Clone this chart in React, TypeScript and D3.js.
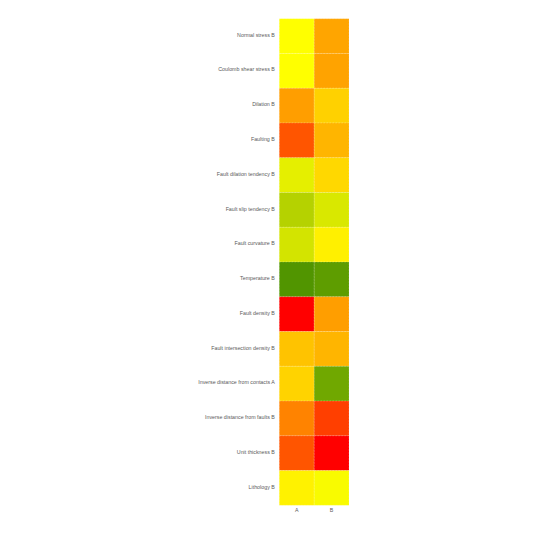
import React, { useEffect, useRef } from 'react';
import * as d3 from 'd3';

// variables (rows, top to bottom)
const variables = [
  'Normal stress B',
  'Coulomb shear stress B',
  'Dilation B',
  'Faulting B',
  'Fault dilation tendency B',
  'Fault slip tendency B',
  'Fault curvature B',
  'Temperature B',
  'Fault density B',
  'Fault intersection density B',
  'Inverse distance from contacts A',
  'Inverse distance from faults B',
  'Unit thickness B',
  'Lithology B',
];
const columns = ['A', 'B'];

// score per row, column A and column B
const valuesA = [0.5, 0.5, 0.31, 0.167, 0.551, 0.645, 0.586, 0.841, 0.0, 0.382, 0.414, 0.257, 0.167, 0.475];
const valuesB = [0.324, 0.32, 0.41, 0.355, 0.424, 0.575, 0.47, 0.816, 0.31, 0.355, 0.78, 0.124, 0.0, 0.512];

export default function App() {
  const ref = useRef<SVGSVGElement>(null);

  useEffect(() => {
    const width = 535;
    const margin = { top: 18.7, right: 186, bottom: 29.7, left: 279.3 };

    const svg = d3.select(ref.current);
    svg.selectAll('*').remove();

    const x = d3.scaleBand().domain(columns).range([margin.left, width - margin.right]);
    const y = d3.scaleBand().domain(variables).range([margin.top, 535 - margin.bottom]);
    const color = d3.scaleLinear<string>()
      .domain([0, 0.5, 1])
      .range(['#ff0000', '#ffff00', '#006400'])
      .interpolate(d3.interpolateRgb);

    const cells = variables.flatMap((v, i) => [
      { row: v, col: 'A', value: valuesA[i] },
      { row: v, col: 'B', value: valuesB[i] },
    ]);

    svg.append('g')
      .selectAll('rect')
      .data(cells)
      .join('rect')
      .attr('x', d => x(d.col)!)
      .attr('y', d => y(d.row)!)
      .attr('width', x.bandwidth())
      .attr('height', y.bandwidth())
      .attr('fill', d => color(d.value))
      .attr('stroke', 'rgba(255,255,255,0.35)')
      .attr('stroke-width', 0.5)
      .attr('stroke-dasharray', '2,1');

    // y labels
    svg.append('g')
      .selectAll('text')
      .data(variables)
      .join('text')
      .attr('x', margin.left - 4.5)
      .attr('y', d => y(d)! + y.bandwidth() / 2)
      .attr('dy', '0.12em')
      .attr('text-anchor', 'end')
      .attr('font-family', 'Liberation Sans, Arial, sans-serif')
      .attr('font-size', 5.3)
      .attr('fill', '#5a5a5a')
      .text(d => d);

    // x labels
    svg.append('g')
      .selectAll('text')
      .data(columns)
      .join('text')
      .attr('x', d => x(d)! + x.bandwidth() / 2)
      .attr('y', 510.5)
      .attr('dy', '0.35em')
      .attr('text-anchor', 'middle')
      .attr('font-family', 'Liberation Sans, Arial, sans-serif')
      .attr('font-size', 5.3)
      .attr('fill', '#5a5a5a')
      .text(d => d);
  }, []);

  return (
    <svg ref={ref} width={535} height={535}
      style={{ position: 'absolute', left: 0, top: 0, background: '#fff' }} />
  );
}
